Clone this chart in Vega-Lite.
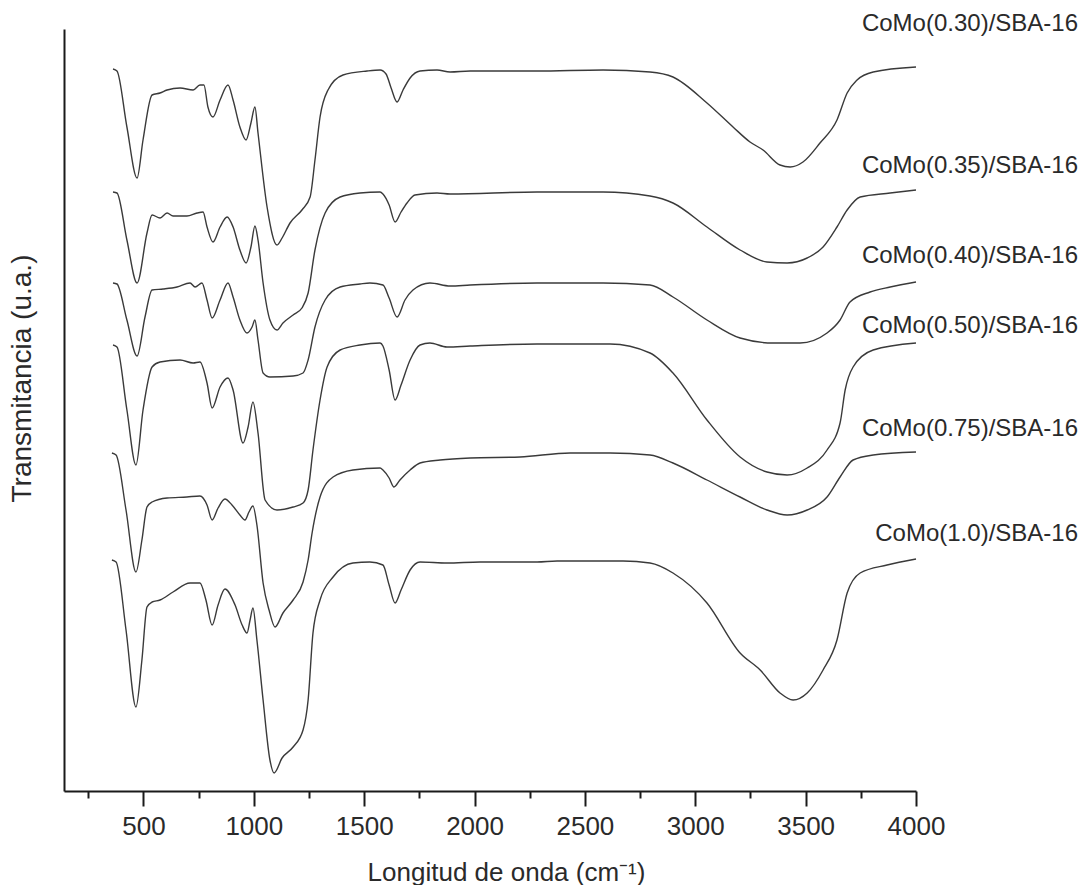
{
  "$schema": "https://vega.github.io/schema/vega-lite/v6.json",
  "width": 852,
  "height": 762,
  "autosize": {"type": "none"},
  "padding": {"left": 64, "top": 29, "right": 176, "bottom": 94},
  "background": "white",
  "config": {
    "view": {"stroke": null},
    "font": "Liberation Sans"
  },
  "datasets": {
    "spectra": [
      {"s": "0.30", "x": [362,380,425,471,498,539,575,607,666,725,756,774,792,815,847,883,906,937,965,987,1005,1019,1060,1105,1128,1164,1218,1255,1277,1300,1336,1404,1513,1572,1599,1622,1649,1676,1708,1753,1830,1889,1980,2283,2582,2795,2899,3053,3171,3248,3307,3384,3430,3488,3565,3642,3688,3733,3806,4000],
       "y": [72.2,72.0,66.4,61.3,65.1,69.6,69.8,70.1,70.3,70.1,70.6,70.6,68.4,67.4,69.1,70.6,69.1,66.4,65.1,66.8,68.4,65.8,58.4,54.6,55.3,56.8,58.1,59.4,63.1,67.4,70.1,71.6,72.0,72.1,71.7,70.3,68.9,70.1,71.3,72.0,72.1,71.9,72.0,72.0,72.1,71.9,71.4,68.8,66.4,64.9,64.1,62.6,62.4,62.9,64.8,67.1,69.8,71.1,71.9,72.4]},
      {"s": "0.35", "x": [362,380,425,471,516,539,575,607,634,697,743,770,788,815,847,879,906,937,965,987,1005,1019,1042,1073,1105,1132,1178,1218,1246,1277,1323,1391,1481,1572,1585,1613,1640,1667,1694,1730,1830,1889,2283,2582,2795,2899,3053,3203,3325,3416,3507,3579,3642,3688,3747,3883,4000],
       "y": [59.9,59.8,55.1,50.8,55.8,57.6,57.3,57.8,57.5,57.5,57.8,57.9,56.4,54.9,56.4,57.4,56.4,54.1,52.8,54.4,56.5,55.1,50.8,47.1,46.1,46.8,47.6,48.3,49.8,54.1,57.8,59.4,59.8,59.9,59.7,58.6,56.9,57.9,58.8,59.6,59.8,59.7,59.9,59.9,59.5,58.8,56.4,54.1,52.9,52.8,53.3,54.4,56.4,58.1,59.4,59.8,60.1]},
      {"s": "0.40", "x": [362,380,425,471,507,539,589,652,711,734,765,788,811,847,883,906,937,969,992,1005,1019,1042,1073,1178,1223,1246,1277,1323,1391,1481,1526,1585,1613,1649,1685,1721,1798,1889,1980,2283,2582,2795,2899,3053,3203,3353,3475,3597,3656,3701,3792,3883,4000],
       "y": [50.8,50.7,47.1,43.5,47.4,50.1,50.2,50.4,50.8,50.4,50.8,49.1,47.3,49.1,50.8,49.4,47.1,45.8,46.4,47.1,45.1,41.8,41.4,41.5,41.8,43.1,46.4,49.1,50.4,50.7,50.8,50.6,49.3,47.4,49.1,50.1,50.8,50.5,50.6,50.8,50.8,50.6,49.4,47.1,45.3,44.8,44.8,45.8,47.1,48.9,49.9,50.4,50.9]},
      {"s": "0.50", "x": [362,380,425,466,498,539,575,666,725,756,788,811,847,883,906,951,974,996,1019,1051,1105,1178,1223,1246,1268,1300,1332,1391,1481,1572,1585,1613,1640,1667,1708,1753,1798,1875,1980,2283,2614,2795,2899,3053,3203,3325,3416,3507,3597,3656,3679,3715,3806,4000],
       "y": [44.6,44.4,38.1,32.6,38.1,42.4,42.9,43.1,42.8,42.9,40.8,38.3,40.4,41.3,40.1,34.8,36.4,38.9,35.8,29.1,28.1,28.4,28.8,30.1,34.1,39.1,42.4,44.1,44.6,44.8,44.5,42.1,39.1,40.6,43.1,44.6,44.8,44.4,44.5,44.7,44.7,43.8,41.8,37.1,33.4,31.9,31.6,32.3,34.1,36.8,40.1,42.4,44.1,44.8]},
      {"s": "0.75", "x": [357,376,421,466,493,516,539,607,697,756,788,811,838,869,901,937,960,978,996,1014,1042,1069,1096,1132,1178,1223,1246,1264,1300,1359,1449,1572,1585,1613,1635,1662,1708,1753,1844,1980,2206,2433,2614,2795,2899,3053,3203,3325,3416,3507,3597,3656,3715,3806,4000],
       "y": [33.8,33.6,28.1,21.9,25.1,28.4,28.9,29.3,29.4,29.5,28.6,27.1,28.3,29.2,28.6,27.6,27.1,27.9,28.5,26.6,20.8,18.1,16.4,17.8,19.1,20.9,23.1,25.8,29.4,31.4,32.1,32.3,32.1,31.3,30.4,31.1,32.1,32.8,33.1,33.3,33.4,33.8,33.8,33.6,32.8,31.1,29.4,28.1,27.6,28.1,29.4,31.4,33.1,33.6,33.9]},
      {"s": "1.0", "x": [357,376,421,466,493,516,539,575,634,711,756,783,811,838,869,915,947,969,983,996,1014,1042,1073,1092,1128,1178,1223,1246,1268,1300,1359,1449,1526,1585,1613,1640,1667,1708,1753,1875,2025,2283,2374,2673,2795,2899,3053,3203,3294,3384,3443,3507,3579,3642,3688,3747,3869,4000],
       "y": [23.1,22.9,16.1,8.4,13.1,18.4,18.9,19.1,19.9,20.8,20.8,19.1,16.6,18.6,20.2,18.6,16.6,15.8,17.1,18.3,15.1,9.1,3.1,1.8,3.3,4.4,6.1,9.1,15.8,19.1,21.4,22.8,22.9,22.6,20.6,18.8,20.1,22.1,22.9,22.8,22.9,22.9,23.0,23.0,22.8,21.8,18.8,13.8,12.1,9.8,9.1,9.8,12.1,15.1,19.8,21.8,22.6,23.2]}
    ],
    "labels": [
      {"label": "CoMo(0.30)/SBA-16", "x": 4734, "y": 76.7},
      {"label": "CoMo(0.35)/SBA-16", "x": 4734, "y": 62.5},
      {"label": "CoMo(0.40)/SBA-16", "x": 4734, "y": 53.5},
      {"label": "CoMo(0.50)/SBA-16", "x": 4734, "y": 46.5},
      {"label": "CoMo(0.75)/SBA-16", "x": 4734, "y": 36.2},
      {"label": "CoMo(1.0)/SBA-16", "x": 4734, "y": 25.7}
    ]
  },
  "layer": [
    {
      "data": {"name": "spectra"},
      "transform": [{"flatten": ["x", "y"]}],
      "mark": {"type": "line", "interpolate": "monotone", "color": "#3a3a3a", "strokeWidth": 1.4},
      "encoding": {
        "detail": {"field": "s", "type": "nominal"},
        "x": {
          "field": "x", "type": "quantitative",
          "scale": {"domain": [140, 4000], "nice": false, "zero": false},
          "axis": {
            "title": "Longitud de onda (cm⁻¹)",
            "values": [250,500,750,1000,1250,1500,1750,2000,2250,2500,2750,3000,3250,3500,3750,4000],
            "format": "d",
            "labelExpr": "datum.value % 500 === 0 ? datum.label : ''",
            "tickSize": {"condition": {"test": "datum.value % 500 === 0", "value": 15}, "value": 7},
            "tickColor": "#1a1a1a",
            "tickWidth": 2,
            "domainColor": "#1a1a1a",
            "domainWidth": 2,
            "grid": false,
            "labelFont": "Liberation Sans",
            "labelFontSize": 26,
            "labelColor": "#2a2a2a",
            "labelPadding": 7,
            "labelFlush": false,
            "labelOverlap": false,
            "titleFont": "Liberation Sans",
            "titleFontSize": 26,
            "titleFontWeight": "normal",
            "titleColor": "#2a2a2a",
            "titleX": 442,
            "titleY": 81,
            "titleAlign": "center",
            "titleBaseline": "middle"
          }
        },
        "y": {
          "field": "y", "type": "quantitative",
          "scale": {"domain": [0, 76.2], "nice": false, "zero": false},
          "axis": {
            "title": "Transmitancia (u.a.)",
            "ticks": false,
            "labels": false,
            "grid": false,
            "domainColor": "#1a1a1a",
            "domainWidth": 2,
            "titleFont": "Liberation Sans",
            "titleFontSize": 28,
            "titleFontWeight": "normal",
            "titleColor": "#2a2a2a",
            "titleAngle": -90,
            "titleX": -42,
            "titleY": 349,
            "titleAlign": "center",
            "titleBaseline": "middle"
          }
        }
      }
    },
    {
      "data": {"name": "labels"},
      "mark": {"type": "text", "align": "right", "baseline": "middle", "font": "Liberation Sans", "fontSize": 24, "color": "#2a2a2a"},
      "encoding": {
        "x": {"field": "x", "type": "quantitative"},
        "y": {"field": "y", "type": "quantitative"},
        "text": {"field": "label"}
      }
    }
  ]
}
